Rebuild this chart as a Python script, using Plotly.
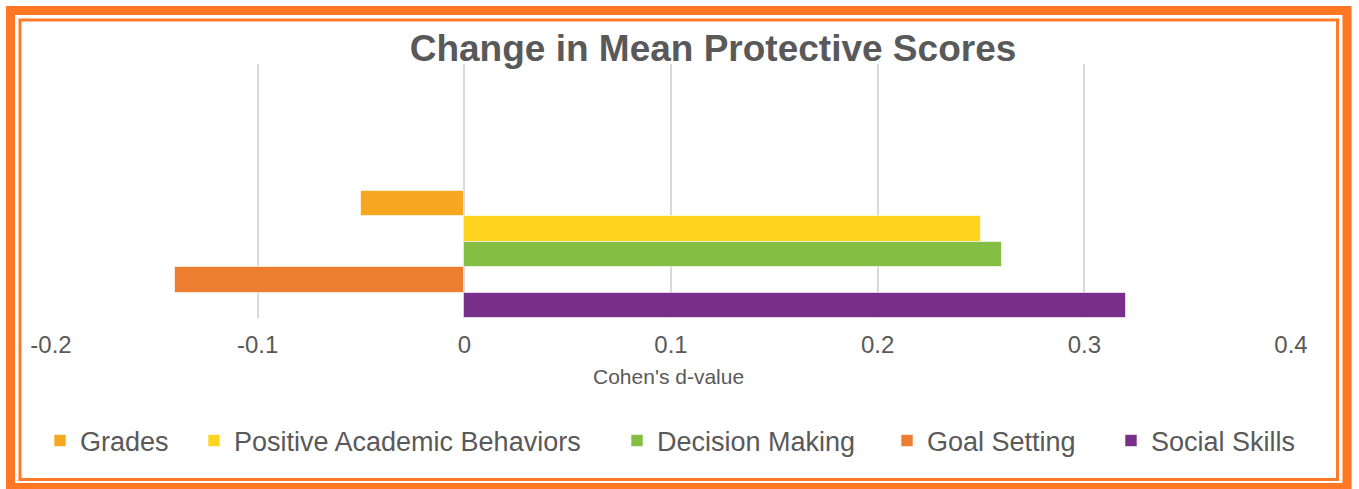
import plotly.graph_objects as go

# ---- data ----
measures = ["Grades", "Positive Academic Behaviors", "Decision Making", "Goal Setting", "Social Skills"]
d_values = [-0.05, 0.25, 0.26, -0.14, 0.32]
colors = ["#F5A81F", "#FFD520", "#84BE42", "#ED7D31", "#772F8A"]
x_ticks = [-0.2, -0.1, 0, 0.1, 0.2, 0.3, 0.4]
x_tick_labels = ["-0.2", "-0.1", "0", "0.1", "0.2", "0.3", "0.4"]

W, H = 1359, 489
L, R, T, B = 51, 68, 64, 171
PW, PH = W - L - R, H - T - B

def px(xp):
    return (xp - L) / PW

def py(yp):
    return (H - B - yp) / PH

FONT = "Arial, Liberation Sans, sans-serif"
GREY = "#595959"

fig = go.Figure()
legend_text_x = [80, 234, 657, 927, 1151]
for i, (m, v, c) in enumerate(zip(measures, d_values, colors)):
    lg = "legend" if i == 0 else f"legend{i+1}"
    fig.add_trace(go.Bar(
        x=[v], y=[0], name=m, orientation="h",
        marker=dict(color=c, line=dict(color="rgba(255,255,255,0.6)", width=1)),
        legend=lg, hoverinfo="x+name",
    ))
    fig.update_layout({lg: dict(
        x=px(legend_text_x[i] - 40), xanchor="left",
        y=py(441), yanchor="middle",
        orientation="h", bgcolor="rgba(0,0,0,0)",
        font=dict(family=FONT, size=27, color=GREY),
    )})

fig.update_layout(
    width=W, height=H,
    margin=dict(l=L, r=R, t=T, b=B, pad=0),
    paper_bgcolor="white", plot_bgcolor="white",
    barmode="group", bargap=0, bargroupgap=0,
    showlegend=True,
    title=dict(text="<b>Change in Mean Protective Scores</b>",
               x=px(713), xref="paper", xanchor="center",
               y=1 - 48 / H, yref="container", yanchor="middle",
               font=dict(family=FONT, size=37, color=GREY)),
    xaxis=dict(range=[-0.2, 0.4], tickvals=x_ticks, ticktext=x_tick_labels,
               showgrid=True, gridcolor="#D9D9D9", gridwidth=2,
               zeroline=True, zerolinecolor="#D9D9D9", zerolinewidth=2,
               showline=False, ticks="", ticklabelstandoff=10,
               tickfont=dict(family=FONT, size=24, color=GREY), fixedrange=True),
    yaxis=dict(range=[0.5, -1.5], showticklabels=False, showgrid=False,
               zeroline=False, showline=False, ticks="", fixedrange=True),
    annotations=[dict(text="Cohen's d-value", x=px(668), y=py(376),
                      xref="paper", yref="paper", xanchor="center", yanchor="middle",
                      showarrow=False, font=dict(family=FONT, size=21, color=GREY))],
    shapes=[
        dict(type="rect", xref="paper", yref="paper",
             x0=px(10.5), x1=px(1347), y0=py(487.5), y1=py(10.5),
             line=dict(color="#FF7722", width=9), fillcolor="rgba(0,0,0,0)", layer="above"),
        dict(type="rect", xref="paper", yref="paper",
             x0=px(20), x1=px(1337.5), y0=py(479.5), y1=py(20),
             line=dict(color="#FF7B2A", width=3), fillcolor="rgba(0,0,0,0)", layer="above"),
    ],
)

fig.write_html("out.html", config={"displayModeBar": False},
               post_script="document.body.style.margin='0';document.body.style.overflow='hidden';")
